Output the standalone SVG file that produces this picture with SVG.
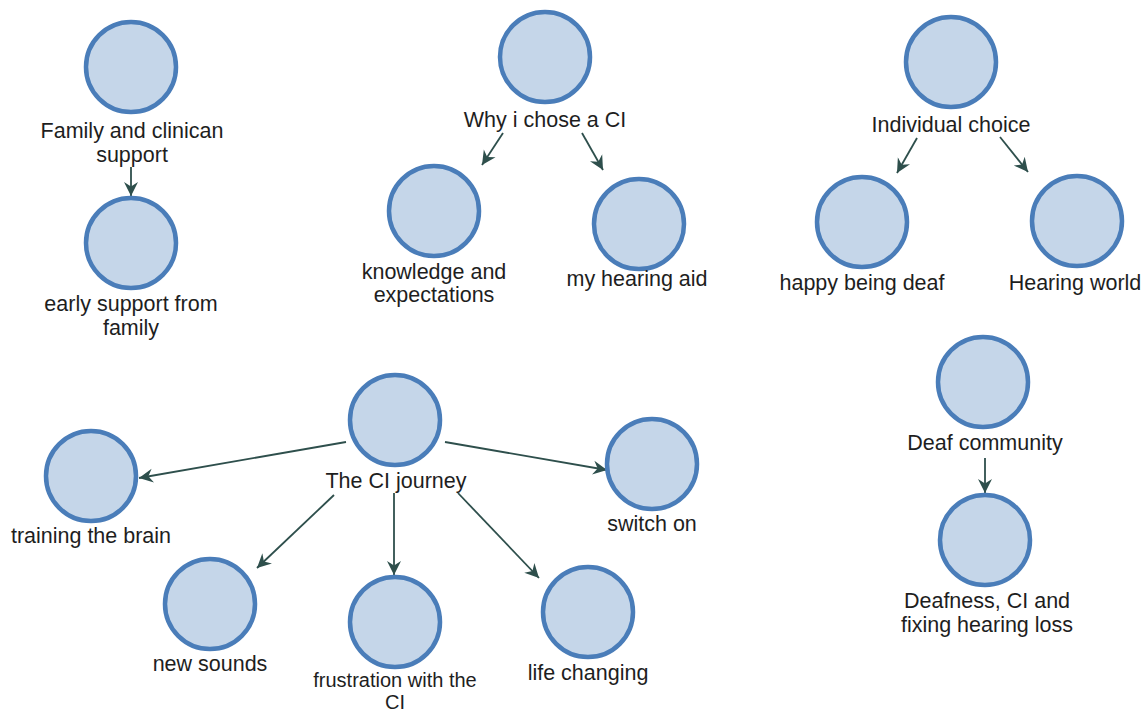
<svg xmlns="http://www.w3.org/2000/svg" width="1146" height="713" viewBox="0 0 1146 713">
  <style>
    .node circle { fill: #c5d6e9; stroke: #4a7db9; stroke-width: 4.5; }
    .node text { font-family: "Liberation Sans", Arial, sans-serif; font-size: 21.5px; fill: #1e1e1e; text-anchor: middle; }
    .node text.tight { font-size: 20px; }
    .edge { stroke: #2e4f4c; stroke-width: 1.8; fill: none; marker-end: url(#arrow); }
  </style>
  <defs>
    <marker id="arrow" markerUnits="userSpaceOnUse" markerWidth="16" markerHeight="16" viewBox="0 0 16 16" refX="14" refY="8" orient="auto">
      <path d="M0,1 L14,8 L0,15 L4.5,8 z" fill="#2e4f4c"/>
    </marker>
  </defs>
  <rect width="1146" height="713" fill="#ffffff"/>

  <!-- connectors -->
  <g id="edges">
    <line class="edge" x1="131" y1="167" x2="131" y2="196"/>
    <line class="edge" x1="503" y1="133" x2="482" y2="165"/>
    <line class="edge" x1="582" y1="133" x2="603" y2="170"/>
    <line class="edge" x1="917" y1="138" x2="897" y2="173"/>
    <line class="edge" x1="1000" y1="137" x2="1028" y2="172"/>
    <line class="edge" x1="985" y1="458" x2="985" y2="493"/>
    <line class="edge" x1="346" y1="442" x2="139" y2="478"/>
    <line class="edge" x1="445" y1="442" x2="607" y2="470"/>
    <line class="edge" x1="334" y1="495" x2="257" y2="568"/>
    <line class="edge" x1="394" y1="493" x2="394" y2="575"/>
    <line class="edge" x1="458" y1="493" x2="539" y2="578"/>
  </g>

  <g id="family-clinican-support" class="node">
    <circle cx="131" cy="67" r="45"/>
    <text x="132" y="138">Family and clinican</text>
    <text x="132" y="162">support</text>
  </g>
  <g id="early-support-family" class="node">
    <circle cx="131" cy="243" r="45"/>
    <text x="131" y="311">early support from</text>
    <text x="131" y="335">family</text>
  </g>

  <g id="why-i-chose-ci" class="node">
    <circle cx="545" cy="57" r="45"/>
    <text x="545" y="127">Why i chose a CI</text>
  </g>
  <g id="knowledge-expectations" class="node">
    <circle cx="434" cy="211" r="45"/>
    <text x="434" y="279">knowledge and</text>
    <text x="434" y="302">expectations</text>
  </g>
  <g id="my-hearing-aid" class="node">
    <circle cx="639" cy="224" r="45"/>
    <text x="637" y="286">my hearing aid</text>
  </g>

  <g id="individual-choice" class="node">
    <circle cx="951" cy="62" r="45"/>
    <text x="951" y="132">Individual choice</text>
  </g>
  <g id="happy-being-deaf" class="node">
    <circle cx="862" cy="222" r="45"/>
    <text x="862" y="290">happy being deaf</text>
  </g>
  <g id="hearing-world" class="node">
    <circle cx="1077" cy="221" r="45"/>
    <text x="1075" y="290">Hearing world</text>
  </g>

  <g id="deaf-community" class="node">
    <circle cx="983" cy="382" r="45"/>
    <text x="985" y="450">Deaf community</text>
  </g>
  <g id="deafness-ci-fixing" class="node">
    <circle cx="985" cy="540" r="45"/>
    <text x="987" y="608">Deafness, CI and</text>
    <text x="987" y="632">fixing hearing loss</text>
  </g>

  <g id="ci-journey" class="node">
    <circle cx="395" cy="420" r="45"/>
    <text x="396" y="488">The CI journey</text>
  </g>
  <g id="training-the-brain" class="node">
    <circle cx="91" cy="476" r="45"/>
    <text x="91" y="543">training the brain</text>
  </g>
  <g id="switch-on" class="node">
    <circle cx="652" cy="464" r="45"/>
    <text x="652" y="531">switch on</text>
  </g>
  <g id="new-sounds" class="node">
    <circle cx="210" cy="604" r="45"/>
    <text x="210" y="671">new sounds</text>
  </g>
  <g id="frustration-ci" class="node">
    <circle cx="395" cy="622" r="45"/>
    <text class="tight" x="395" y="687">frustration with the</text>
    <text class="tight" x="395" y="709">CI</text>
  </g>
  <g id="life-changing" class="node">
    <circle cx="588" cy="612" r="45"/>
    <text x="588" y="680">life changing</text>
  </g>
</svg>
